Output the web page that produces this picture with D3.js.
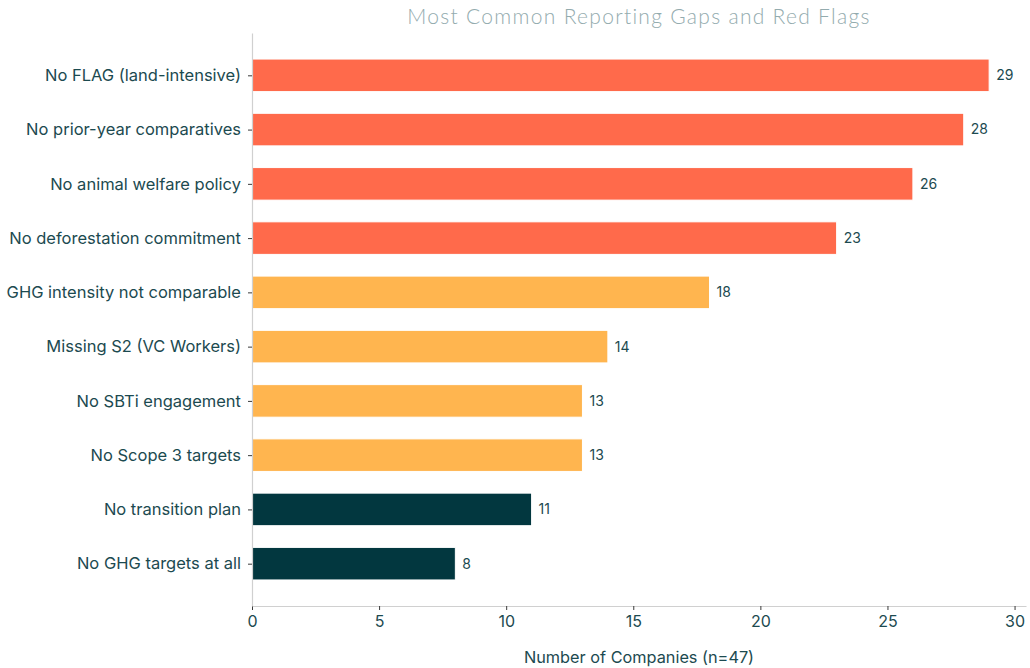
<!DOCTYPE html>
<html>
<head>
<meta charset="utf-8">
<script src="https://cdn.jsdelivr.net/npm/d3@7"></script>
<style>
  html, body { margin: 0; padding: 0; background: #ffffff; }
  svg { display: block; }
</style>
</head>
<body>
<svg id="chart" width="1030" height="668"></svg>
<script>
// Reporting gaps, top to bottom
const categories = [
  "No FLAG (land-intensive)",
  "No prior-year comparatives",
  "No animal welfare policy",
  "No deforestation commitment",
  "GHG intensity not comparable",
  "Missing S2 (VC Workers)",
  "No SBTi engagement",
  "No Scope 3 targets",
  "No transition plan",
  "No GHG targets at all"
];
const counts = [29, 28, 26, 23, 18, 14, 13, 13, 11, 8];
// severity tier of each gap: drives the bar colour
const tiers = ["red", "red", "red", "red", "amber", "amber", "amber", "amber", "dark", "dark"];
const xTicks = [0, 5, 10, 15, 20, 25, 30];
const titleText = "Most Common Reporting Gaps and Red Flags";
const xLabelText = "Number of Companies (n=47)";

const tierColor = { red: "#FF6A4B", amber: "#FFB54F", dark: "#02373F" };
const textColor = "#1C4A50";
const font = "Inter, 'Noto Sans', sans-serif";

const svg = d3.select("#chart");
const plotLeft = 252, plotRight = 1026, plotTop = 33, plotBottom = 606;
const barH = 0.6;

const x = d3.scaleLinear().domain([0, d3.max(counts) * 1.05]).range([plotLeft, plotRight]);
// category index axis, padded like a horizontal bar plot
const pad = (categories.length - 1 + barH) * 0.05;
const y = d3.scaleLinear()
  .domain([-barH / 2 - pad, categories.length - 1 + barH / 2 + pad])
  .range([plotTop, plotBottom]);

const data = categories.map((c, i) => ({ c, i, v: counts[i], t: tiers[i] }));

// bars
svg.append("g").selectAll("rect").data(data).join("rect")
  .attr("x", x(0))
  .attr("y", d => y(d.i - barH / 2))
  .attr("width", d => x(d.v) - x(0))
  .attr("height", d => y(d.i + barH / 2) - y(d.i - barH / 2))
  .attr("fill", d => tierColor[d.t])
  .attr("stroke", "#ffffff")
  .attr("stroke-width", 1);

// value labels
svg.append("g").selectAll("text").data(data).join("text")
  .attr("x", d => x(d.v) + 7)
  .attr("y", d => y(d.i))
  .attr("dy", "0.35em")
  .attr("fill", textColor)
  .attr("font-family", font)
  .attr("font-size", 14)
  .text(d => d.v);

// x axis
const xAxis = svg.append("g")
  .attr("transform", `translate(0,${plotBottom})`)
  .call(d3.axisBottom(x).tickValues(xTicks).tickSize(4).tickPadding(6).tickSizeOuter(0));
xAxis.select(".domain").attr("stroke", "#d0d0d0").attr("stroke-width", 1.2);
xAxis.selectAll(".tick line").attr("stroke", "#3a3a3a").attr("stroke-width", 1);
xAxis.selectAll(".tick text")
  .attr("fill", textColor).attr("font-family", font).attr("font-size", 16);

// y axis with category names
const yAxis = svg.append("g")
  .attr("transform", `translate(${plotLeft},0)`)
  .call(d3.axisLeft(y).tickValues(d3.range(categories.length))
    .tickFormat(i => categories[i]).tickSize(4).tickPadding(7).tickSizeOuter(0));
yAxis.select(".domain").attr("stroke", "#d0d0d0").attr("stroke-width", 1.2);
yAxis.selectAll(".tick line").attr("stroke", "#3a3a3a").attr("stroke-width", 1);
yAxis.selectAll(".tick text")
  .attr("fill", textColor).attr("font-family", font).attr("font-size", 16.5);

// title
svg.append("text")
  .attr("x", (plotLeft + plotRight) / 2)
  .attr("y", 24)
  .attr("text-anchor", "middle")
  .attr("fill", "#93ABAE")
  .attr("font-family", "Lato, 'Open Sans', sans-serif")
  .attr("font-weight", 300)
  .attr("font-size", 21)
  .attr("letter-spacing", 1.3)
  .text(titleText);

// x axis title
svg.append("text")
  .attr("x", (plotLeft + plotRight) / 2)
  .attr("y", 663)
  .attr("text-anchor", "middle")
  .attr("fill", textColor)
  .attr("font-family", font)
  .attr("font-size", 16.3)
  .text(xLabelText);
</script>
</body>
</html>
